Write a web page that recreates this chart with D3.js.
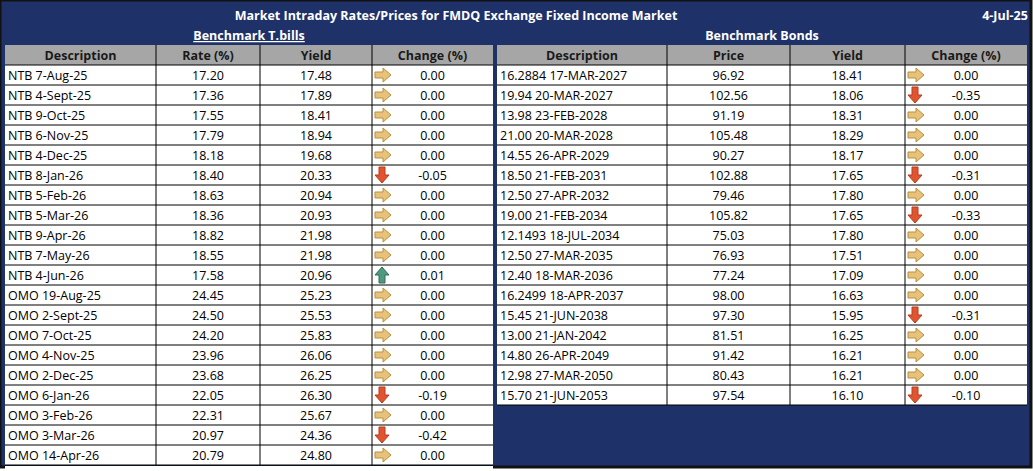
<!DOCTYPE html>
<html><head><meta charset="utf-8">
<script src="https://cdn.jsdelivr.net/npm/d3@7"></script>
<style>body{margin:0;background:#fff}text{font-family:"Open Sans","Noto Sans",sans-serif}</style>
</head><body><svg id="chart" width="1033" height="471"></svg>
<script>
/* DATA */
var billDesc = ["NTB 7-Aug-25","NTB 4-Sept-25","NTB 9-Oct-25","NTB 6-Nov-25","NTB 4-Dec-25","NTB 8-Jan-26","NTB 5-Feb-26","NTB 5-Mar-26","NTB 9-Apr-26","NTB 7-May-26","NTB 4-Jun-26","OMO 19-Aug-25","OMO 2-Sept-25","OMO 7-Oct-25","OMO 4-Nov-25","OMO 2-Dec-25","OMO 6-Jan-26","OMO 3-Feb-26","OMO 3-Mar-26","OMO 14-Apr-26"];
var billRate = [17.20,17.36,17.55,17.79,18.18,18.40,18.63,18.36,18.82,18.55,17.58,24.45,24.50,24.20,23.96,23.68,22.05,22.31,20.97,20.79];
var billYield = [17.48,17.89,18.41,18.94,19.68,20.33,20.94,20.93,21.98,21.98,20.96,25.23,25.53,25.83,26.06,26.25,26.30,25.67,24.36,24.80];
var billChange = [0,0,0,0,0,-0.05,0,0,0,0,0.01,0,0,0,0,0,-0.19,0,-0.42,0];
var bondDesc = ["16.2884 17-MAR-2027","19.94 20-MAR-2027","13.98 23-FEB-2028","21.00 20-MAR-2028","14.55 26-APR-2029","18.50 21-FEB-2031","12.50 27-APR-2032","19.00 21-FEB-2034","12.1493 18-JUL-2034","12.50 27-MAR-2035","12.40 18-MAR-2036","16.2499 18-APR-2037","15.45 21-JUN-2038","13.00 21-JAN-2042","14.80 26-APR-2049","12.98 27-MAR-2050","15.70 21-JUN-2053"];
var bondPrice = [96.92,102.56,91.19,105.48,90.27,102.88,79.46,105.82,75.03,76.93,77.24,98.00,97.30,81.51,91.42,80.43,97.54];
var bondYield = [18.41,18.06,18.31,18.29,18.17,17.65,17.80,17.65,17.80,17.51,17.09,16.63,15.95,16.25,16.21,16.21,16.10];
var bondChange = [0,-0.35,0,0,0,-0.31,0,-0.33,0,0,0,0,-0.31,0,0,0,-0.10];
var billHeaders = ["Description","Rate (%)","Yield","Change (%)"];
var bondHeaders = ["Description","Price","Yield","Change (%)"];

var svg = d3.select("#chart");
var NAVY = "#1f3169";
var FS = 12.5;
var rowY = d3.scaleBand().domain(d3.range(20)).range([65, 465]);

svg.append("rect").attr("x",0).attr("y",0).attr("width",1031).attr("height",467).attr("fill",NAVY);
svg.append("rect").attr("x",0).attr("y",0).attr("width",1031).attr("height",467).attr("fill","none").attr("stroke","#111").attr("stroke-width",3);
svg.append("text").attr("x",456).attr("y",20).attr("text-anchor","middle").attr("fill","#fff")
  .attr("font-weight","bold").attr("font-size",FS).text("Market Intraday Rates/Prices for FMDQ Exchange Fixed Income Market");
svg.append("text").attr("x",1005).attr("y",20).attr("text-anchor","middle").attr("fill","#fff")
  .attr("font-weight","bold").attr("font-size",FS).text("4-Jul-25");

function arrow(g, x, y, v){
  if(v === 0){
    g.append("path").attr("transform","translate("+x+","+y+")")
      .attr("d","M0,-3 L8,-3 L8,-7 L16,0 L8,7 L8,3 L0,3 Z").attr("fill","#e8c27a").attr("stroke","#b8913f");
  } else if(v < 0){
    g.append("path").attr("transform","translate("+(x+7)+","+y+")")
      .attr("d","M-3,-8 L3,-8 L3,0 L7,0 L0,8 L-7,0 L-3,0 Z").attr("fill","#e0542f").attr("stroke","#b83a1c");
  } else {
    g.append("path").attr("transform","translate("+(x+7)+","+y+")")
      .attr("d","M-3,8 L3,8 L3,0 L7,0 L0,-8 L-7,0 L-3,0 Z").attr("fill","#4e9a7f").attr("stroke","#2f6e58");
  }
}

function drawTable(x0, cols, title, headers, desc, c1, c2, change){
  var g = svg.append("g");
  var x1 = cols[cols.length-1];
  g.append("text").attr("x",(x0+x1)/2).attr("y",40).attr("text-anchor","middle").attr("fill","#fff")
    .attr("font-weight","bold").attr("font-size",FS).attr("text-decoration", title.u ? "underline" : null).text(title.t);
  g.append("rect").attr("x",x0).attr("y",45).attr("width",x1-x0).attr("height",20).attr("fill","#a6a6a6");
  var n = desc.length;
  var bottom = rowY(n-1)+rowY.bandwidth();
  g.append("rect").attr("x",x0).attr("y",65).attr("width",x1-x0).attr("height",bottom-65).attr("fill","#fff");
  headers.forEach(function(h,i){
    g.append("text").attr("x",(cols[i]+cols[i+1])/2).attr("y",60).attr("text-anchor","middle")
      .attr("font-weight","bold").attr("font-size",FS).attr("fill","#1a1a1a").text(h);
  });
  desc.forEach(function(d,i){
    var y = rowY(i), cy = y + rowY.bandwidth()/2;
    g.append("line").attr("x1",x0).attr("x2",x1).attr("y1",y+rowY.bandwidth()).attr("y2",y+rowY.bandwidth()).attr("stroke","#000");
    g.append("text").attr("x",x0+3).attr("y",cy+4.5).attr("font-size",FS).text(d);
    g.append("text").attr("x",(cols[1]+cols[2])/2).attr("y",cy+4.5).attr("text-anchor","middle").attr("font-size",FS).text(c1[i].toFixed(2));
    g.append("text").attr("x",(cols[2]+cols[3])/2).attr("y",cy+4.5).attr("text-anchor","middle").attr("font-size",FS).text(c2[i].toFixed(2));
    arrow(g, cols[3]+3, cy, change[i]);
    g.append("text").attr("x",(cols[3]+cols[4])/2).attr("y",cy+4.5).attr("text-anchor","middle").attr("font-size",FS).text(change[i].toFixed(2));
  });
  g.append("line").attr("x1",x0).attr("x2",x1).attr("y1",65).attr("y2",65).attr("stroke","#000");
  cols.forEach(function(c,i){
    if(i===0 || i===cols.length-1) return;
    g.append("line").attr("x1",c).attr("x2",c).attr("y1",45).attr("y2",bottom).attr("stroke","#000");
  });
}

drawTable(5, [5,156,260,372,493], {t:"Benchmark T.bills",u:true}, billHeaders, billDesc, billRate, billYield, billChange);
drawTable(497, [497,667,790,905,1027], {t:"Benchmark Bonds",u:false}, bondHeaders, bondDesc, bondPrice, bondYield, bondChange);
svg.append("rect").attr("x",5).attr("y",466).attr("width",488).attr("height",5).attr("fill","#fff");
</script></body></html>
